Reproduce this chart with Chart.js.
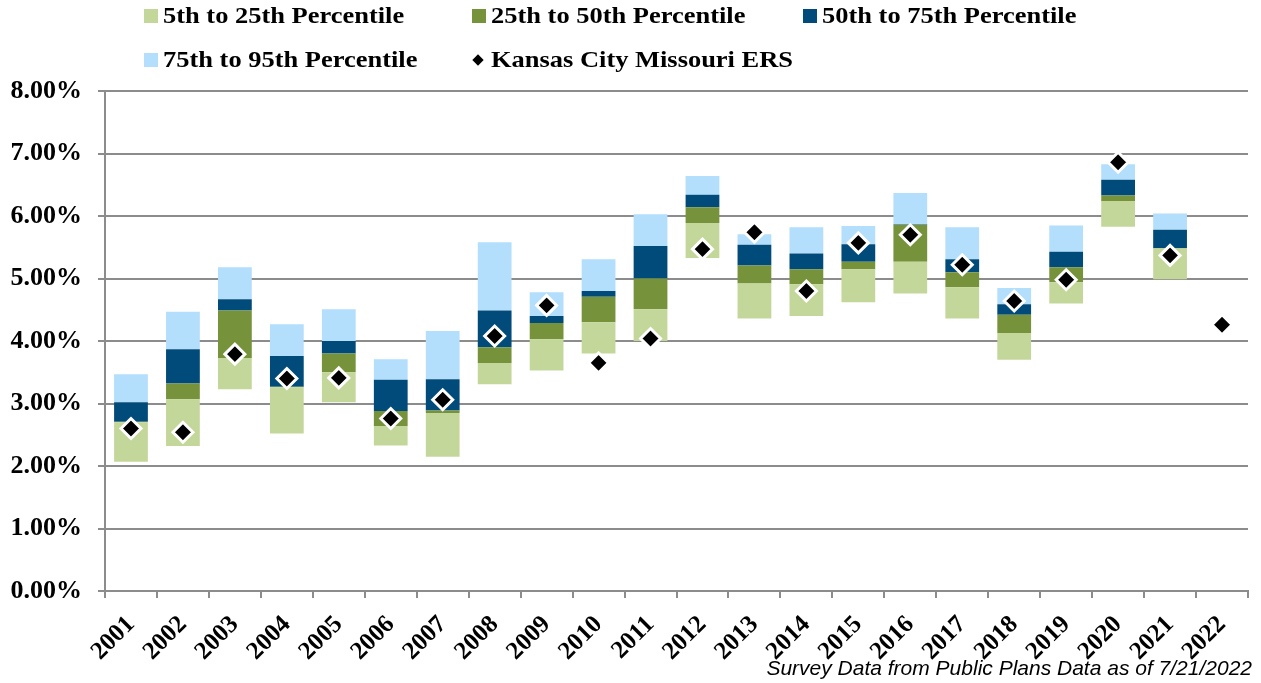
<!DOCTYPE html>
<html>
<head>
<meta charset="utf-8">
<script src="https://cdn.jsdelivr.net/npm/chart.js@4.4.1/dist/chart.umd.min.js"></script>
<style>
    body { margin: 0; background: #fff; }
    #wrap { position: relative; width: 1261px; height: 683px; }
    .legend-item {
        position: absolute;
        display: flex;
        align-items: center;
        font: bold 23px "Liberation Serif", "Times New Roman", serif;
        color: #000;
        line-height: 24px;
        white-space: nowrap;
    }
    .legend-text { display: inline-block; transform: scaleX(1.15); transform-origin: left center; }
    .legend-box { width: 14px; height: 14px; margin-right: 5px; }
    .legend-diamond { width: 8px; height: 8px; background: #000; transform: rotate(45deg); margin: 0 9px 0 2px; }
    #note {
        position: absolute;
        right: 9px;
        top: 656px;
        font: italic 21px "Liberation Sans", Arial, sans-serif;
        color: #000;
    }
</style>
</head>
<body>
<div id="wrap">
    <canvas id="percentileChart" width="1261" height="683"></canvas>
    <div id="legend"></div>
    <div id="note">Survey Data from Public Plans Data as of 7/21/2022</div>
</div>
<script>
const years = [
    "2001", "2002", "2003", "2004", "2005", "2006", "2007", "2008", "2009", "2010", "2011",
    "2012", "2013", "2014", "2015", "2016", "2017", "2018", "2019", "2020", "2021", "2022",
];

// percentile values (%), 2022 has no survey bars
const p5 = [2.07, 2.32, 3.23, 2.52, 3.02, 2.33, 2.15, 3.31, 3.53, 3.80, 4.00, 5.33, 4.36, 4.40, 4.62, 4.76, 4.36, 3.70, 4.60, 5.83, 4.99, null];
const p25 = [2.70, 3.07, 3.73, 3.26, 3.50, 2.64, 2.85, 3.65, 4.03, 4.30, 4.51, 5.89, 4.92, 4.91, 5.15, 5.27, 4.86, 4.13, 4.94, 6.24, 5.48, null];
const p50 = [2.71, 3.32, 4.49, 3.27, 3.80, 2.88, 2.89, 3.90, 4.29, 4.71, 5.00, 6.14, 5.21, 5.15, 5.27, 5.86, 5.10, 4.42, 5.18, 6.33, 5.49, null];
const p75 = [3.02, 3.87, 4.67, 3.76, 4.00, 3.38, 3.39, 4.49, 4.40, 4.80, 5.52, 6.34, 5.54, 5.40, 5.55, 5.87, 5.31, 4.59, 5.43, 6.58, 5.78, null];
const p95 = [3.47, 4.47, 5.18, 4.27, 4.51, 3.71, 4.16, 5.58, 4.78, 5.31, 6.03, 6.64, 5.71, 5.82, 5.84, 6.37, 5.82, 4.85, 5.85, 6.83, 6.04, null];
const kcers = [2.60, 2.54, 3.79, 3.40, 3.41, 2.76, 3.06, 4.08, 4.57, 3.65, 4.04, 5.47, 5.74, 4.80, 5.57, 5.70, 5.22, 4.64, 4.98, 6.86, 5.37, 4.26];

const yTicks = [0, 1, 2, 3, 4, 5, 6, 7, 8];

const gridGrey = "#8c8c8c";
const serif = "'Liberation Serif', 'Times New Roman', serif";

function band(low, high) {
    return low.map((v, i) => (v == null ? null : [v, high[i]]));
}

const bandSets = [
    { label: "5th to 25th Percentile", data: band(p5, p25), color: "#c4d79b" },
    { label: "25th to 50th Percentile", data: band(p25, p50), color: "#76933c" },
    { label: "50th to 75th Percentile", data: band(p50, p75), color: "#004b7a" },
    { label: "75th to 95th Percentile", data: band(p75, p95), color: "#b3defc" },
];

const chart = new Chart(document.getElementById("percentileChart"), {
    type: "bar",
    data: {
        labels: years,
        datasets: [
            ...bandSets.map((b) => ({
                label: b.label,
                data: b.data,
                backgroundColor: b.color,
                borderWidth: 0,
                barPercentage: 0.65,
                categoryPercentage: 1,
                order: 1,
            })),
            {
                type: "line",
                label: "Kansas City Missouri ERS",
                data: kcers,
                showLine: false,
                pointStyle: "rectRot",
                pointRadius: 10,
                pointHoverRadius: 10,
                pointBackgroundColor: "#000",
                pointBorderColor: "#fff",
                pointBorderWidth: 3,
                order: 0,
            },
        ],
    },
    options: {
        responsive: false,
        animation: false,
        layout: { padding: { top: 91, right: 3, left: 0, bottom: 0 } },
        plugins: {
            legend: { display: false },
            tooltip: { enabled: false },
        },
        scales: {
            x: {
                stacked: true,
                afterFit: (scale) => { scale.height = 92; },
                grid: {
                    offset: true,
                    drawOnChartArea: false,
                    drawTicks: true,
                    tickLength: 7,
                    color: gridGrey,
                    lineWidth: 2,
                },
                border: { color: gridGrey, width: 2 },
                ticks: {
                    minRotation: 45,
                    maxRotation: 45,
                    padding: 12,
                    color: "#000",
                    font: { family: serif, size: 25, weight: "bold" },
                },
            },
            y: {
                stacked: false,
                min: 0,
                max: 8,
                afterFit: (scale) => { scale.width = 105; },
                afterBuildTicks: (scale) => { scale.ticks = yTicks.map((v) => ({ value: v })); },
                grid: { color: gridGrey, lineWidth: 2, tickLength: 7 },
                border: { color: gridGrey, width: 2 },
                ticks: {
                    padding: 16,
                    color: "#000",
                    font: { family: serif, size: 26, weight: "bold" },
                    callback: (v) => v.toFixed(2) + "%",
                },
            },
        },
    },
});

// legend laid out in two rows of columns like the original
const legendCols = [144, 472, 803];
const legendRows = [4, 48];
const legendEl = document.getElementById("legend");
chart.data.datasets.forEach((ds, i) => {
    const item = document.createElement("div");
    item.className = "legend-item";
    item.style.left = legendCols[i % 3] + "px";
    item.style.top = legendRows[Math.floor(i / 3)] + "px";
    const mark = document.createElement("span");
    if (ds.type === "line") {
        mark.className = "legend-diamond";
    } else {
        mark.className = "legend-box";
        mark.style.background = ds.backgroundColor;
    }
    const text = document.createElement("span");
    text.className = "legend-text";
    text.textContent = ds.label;
    item.appendChild(mark);
    item.appendChild(text);
    legendEl.appendChild(item);
});
</script>
</body>
</html>
